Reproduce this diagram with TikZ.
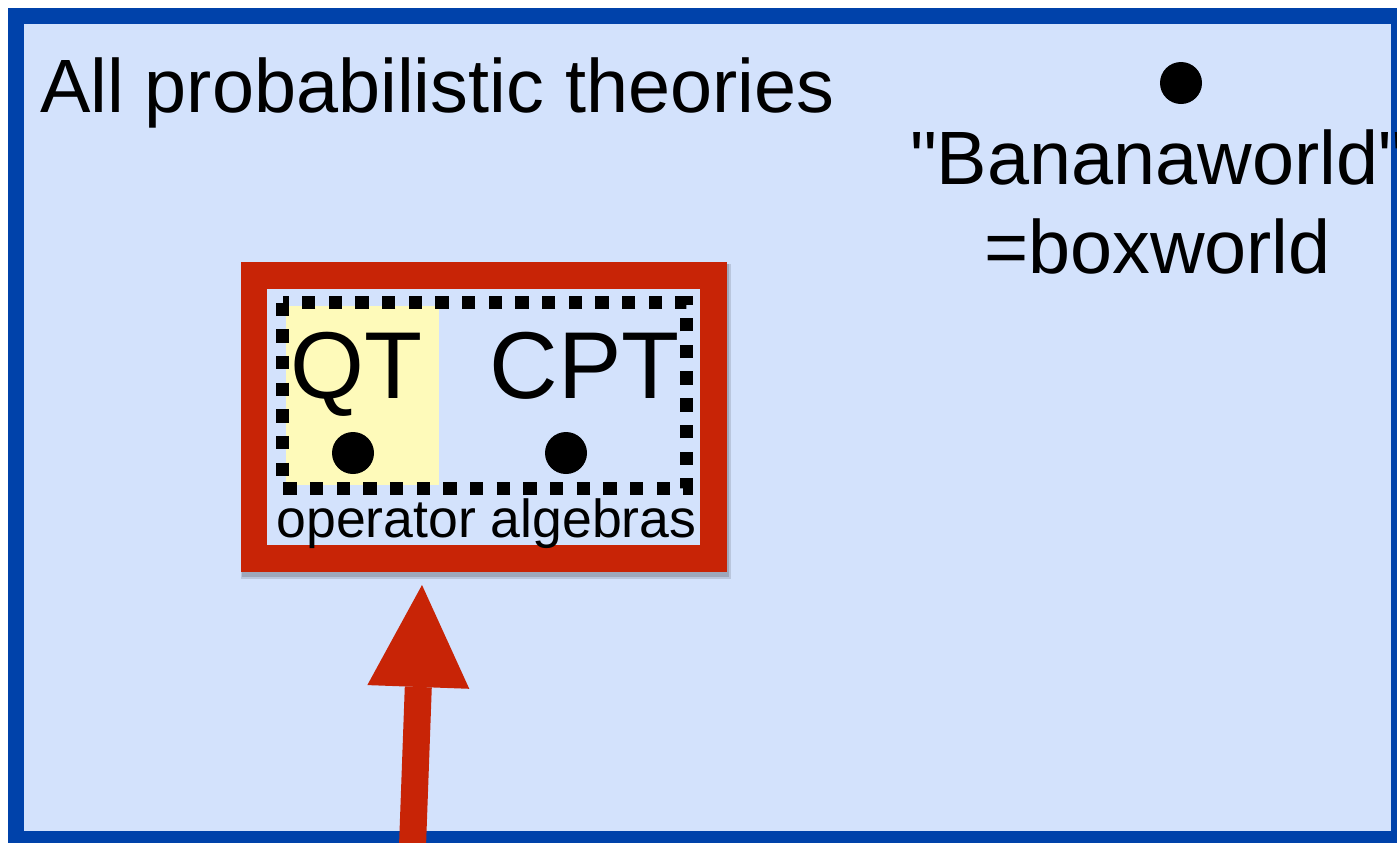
\documentclass[tikz,border=0pt]{standalone}
\usepackage{fontspec}
\setmainfont{Liberation Sans}
\newfontfamily\plainsans{Liberation Sans}[Ligatures=TeXOff]
\usetikzlibrary{arrows.meta}
\definecolor{bgblue}{RGB}{211,226,252}
\definecolor{frameblue}{RGB}{0,66,170}
\definecolor{boxred}{RGB}{200,36,6}
\definecolor{qtyellow}{RGB}{254,250,186}
\tikzset{
  txt/.style={inner sep=0pt, outer sep=0pt, text=black},
  bigtxt/.style={txt, font=\fontsize{37.8}{45}\selectfont},
  hugetxt/.style={txt, font=\fontsize{47.5}{57}\selectfont},
  smalltxt/.style={txt, font=\fontsize{26.8}{32}\selectfont},
  dot/.style={circle, fill=black, inner sep=0pt, minimum size=21pt},
}
\begin{document}
\begin{tikzpicture}[x=0.5pt, y=-0.5pt]
\useasboundingbox (0,0) rectangle (1397,842);
\clip (0,0) rectangle (1397,842);
\fill[white] (0,0) rectangle (1397,842);
% outer frame
\fill[bgblue] (24,24) rectangle (1391,831);
\draw[frameblue, line width=8pt] (16,16) rectangle (1399,839);
\node[bigtxt, anchor=base west] (all) at (40,112) {All probabilistic theories};
% banana world
\node[dot] (bdot) at (1181,83) {};
\node[bigtxt, anchor=base] (bw1) at (1157.5,184) {\plainsans "Bananaworld"};
\node[bigtxt, anchor=base] (bw2) at (1157.5,273) {=boxworld};
% red box with shadow
\fill[black, opacity=0.12] (241,264) rectangle (731,579);
\fill[black, opacity=0.15] (242,264) rectangle (729,577);
\draw[boxred, line width=13.25pt, fill=bgblue] (254,275.5) rectangle (713.5,558.5);
\fill[qtyellow] (286,306) rectangle (439,485);
\draw[black, line width=6.5pt, dash pattern=on 6.67pt off 6.67pt] (282.5,302.5) rectangle (686.5,488.5);
\node[hugetxt, anchor=base] (qt) at (356.5,398) {QT};
\node[hugetxt, anchor=base] (cpt) at (584.5,398) {CPT};
\node[dot] (qdot) at (353,453) {};
\node[dot] (cdot) at (566,453) {};
\node[smalltxt, anchor=base] (opalg) at (486.5,537) {operator algebras};
% arrow
\coordinate (arrS) at (412,860);
\coordinate (arrE) at (422,585);
\draw[boxred, line width=13.5pt, -{Triangle[length=51pt 0 0, width=51pt 0 0, line width=0pt]}] (arrS) -- (arrE);
\end{tikzpicture}
\end{document}
